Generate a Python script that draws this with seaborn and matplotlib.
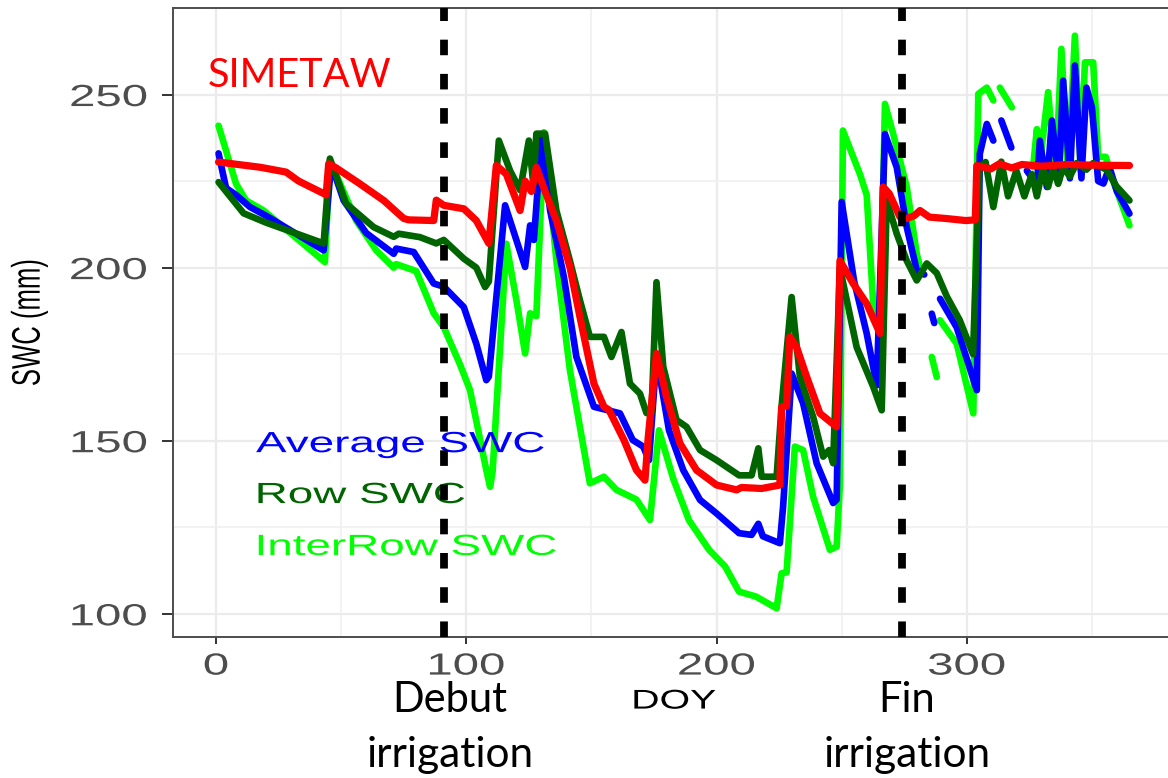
import numpy as np
import pandas as pd
import matplotlib
matplotlib.use("Agg")
import matplotlib.pyplot as plt
import seaborn as sns
from matplotlib.patheffects import AbstractPathEffect
from matplotlib.transforms import Affine2D
from matplotlib.ticker import FixedLocator

nan = np.nan

# Soil water content (mm) by day of year; NaN marks missing sensor readings
avg_doy = [1, 4, 8, 13.6, 20, 43, 46, 51, 60, 71, 72, 79, 87, 91, 99, 104, 108, 109, 115.5, 120,
           123.5, 125.5, 127, 130, 133.5, 139, 144, 151, 156, 161.4, 166.5, 170.7, 173, 176, 181,
           186.7, 193.4, 200, 209, 214, 216.7, 218.5, 225.3, 226.6, 230, 234.6, 240, 246.6, 248,
           250, 255, 260, 264, 267.3, 272, 276, 280, 283, nan, 286, 287, nan, 289.3, 296, 304,
           305.2, 308, 310.6, nan, 313.8, 317.8, nan, 324, 326, 328, 329.2, 332, 334, 336.8,
           338.5, 341.2, 343.2, 345.8, 347.8, 350, 352.5, 354.6, 357, 360, 365]
avg_swc = [233, 223, 221, 217.5, 215, 205, 230, 219.4, 210, 204, 205.5, 204.5, 195.4, 194.5, 188.6,
           178, 167.5, 168.5, 218, 208, 200.2, 212.2, 208, 237.2, 216.5, 197.3, 174.2, 159.8,
           158.9, 157.9, 150.2, 148.3, 144.4, 174.2, 153, 141.5, 132.9, 129, 123.3, 122.8, 126,
           122.4, 120.4, 131, 169.4, 160.8, 143.5, 132, 133, 219, 196, 181, 166, 238.6, 229,
           211.7, 199.2, 198, nan, 186.7, 184, nan, 191, 182.7, 164.6, 232.9, 241.5, 236.7, nan,
           242.5, 234.7, nan, 228, 226, 223.3, 236.7, 223.3, 242.5, 225, 254, 225.8, 258.4,
           225.8, 252, 246.3, 225, 224.3, 229, 222, 215.6]

row_doy = [1, 11, 20, 43, 45.5, 52, 63, 71, 73, 81.5, 88, 91, 99, 104, 107.5, 109, 113, 117.5,
           121.5, 125, 126.8, 128, 131.5, 136, 141.4, 145.4, 149.4, 155, 158, 162, 165.4, 169.4,
           172, 174, 176, 178.7, 184, 188, 193.4, 200, 209, 214, 216.7, 218, 224, 226, 230,
           233.3, 238.6, 242.6, 245, 246.6, 249.3, 256, 262.6, 266, 268, 272, 276, 280, 284,
           288, 292, 297.2, 302.5, 305, 307.5, 310.6, 313.8, 316.5, 319.8, 323, 326, 328, 330.5,
           332.5, 334.5, 336.5, 338.5, 341.2, 343.9, 347.8, 350.5, 355.8, 359.8, 365]
row_swc = [224.7, 215.7, 213, 207, 231.5, 218.5, 211.7, 208.9, 209.8, 208.8, 207, 208, 202.6, 200,
           194.4, 196, 236.7, 228, 222.4, 236.7, 224, 238.7, 238.7, 216.5, 202, 190.6, 180, 180,
           174.2, 181.4, 166.5, 163.6, 158, 158, 195.8, 171.4, 156, 154, 147.3, 144.4, 140, 140,
           147.8, 139.6, 139.6, 160, 191.5, 168.5, 156.9, 145.4, 147.3, 143.5, 200, 177, 165.6,
           158.8, 219.4, 209.8, 202, 196.3, 201.2, 198.4, 191.7, 184.8, 175, 229, 230.5, 217.5,
           230.6, 220.6, 228, 220.6, 227, 220.6, 229, 223.3, 229, 224.2, 229, 226.3, 230.2,
           228.3, 230.2, 228.3, 223.5, 219.4]

inter_doy = [1, 8, 12, 19, 43.5, 45.5, 56, 64, 71, 72, 80, 87, 91, 97.5, 101.5, 108, 109.5, 110.5,
             116, 120.5, 123.5, 125.5, 128, 131, 136, 141.4, 145.4, 149.4, 155, 160, 168, 173.4,
             177, 182.7, 189, 197, 203.4, 209, 215.7, 224, 226, 228, 231.3, 234.6, 238.6, 245.3,
             248, 249.3, 250.5, 257.3, 260, 262.6, 265.3, 267.3, 270.6, 276, 280, 281.3, nan, 286,
             288, nan, 289.3, 296, 302.6, 304.6, 308, 310.6, nan, 313.2, 318, nan, 326.5, 328,
             329.5, 332.5, 335.5, 337.8, 340.5, 343.2, 345.5, 347.2, 350.5, 352.5, 355.5, 358.5, 365]
inter_swc = [241, 224.2, 219.4, 216.5, 201.6, 231, 213.6, 205, 200, 201, 199, 186.8, 182.8, 172,
             164.6, 141.5, 136.7, 141, 206.9, 188.6, 175.2, 186.8, 186, 239.1, 202, 170.4, 154,
             137.7, 139.6, 135.8, 133, 127.1, 153, 139, 127, 118.5, 113.7, 106.4, 105, 101.6,
             111.7, 112, 148.3, 147.3, 133.8, 118.5, 119.4, 137.7, 239.6, 227, 221, 189.6, 180,
             247.3, 238.6, 223.3, 204, 200.2, nan, 174.2, 168.4, nan, 184.8, 178, 157.9, 250.2,
             252, 248.3, nan, 252, 246.3, nan, 229, 240, 232, 250.7, 226, 263.2, 227, 267, 228,
             259.3, 259.3, 232, 232, 225, 212.2]

sim_doy = [1, 17.6, 28, 33, 43, 44, 45, 48, 57.5, 67, 75, 77, 87, 88, 91, 99, 104, 109, 112, 116,
           121.5, 123.5, 126, 128, 131.5, 136, 141.4, 145.4, 151, 155, 157, 163, 168, 171.4,
           172.7, 176, 180, 185.4, 192, 200, 208, 210, 218, 225.3, 226, 228, 229.3, 232, 236,
           241.3, 248, 249.3, 254.6, 260, 265.3, 266.6, 269, 273.3, 276, 279, 281.3, 285, 291.6,
           299.6, 303.4, 304, 309.6, 313, 318, 322, 330, 340, 350, 365]
sim_swc = [230.5, 229, 227.6, 225, 221.4, 221, 230, 228.8, 224.2, 219.4, 214.2, 213.8, 213.6, 219.5,
           218, 217, 213.6, 207, 229.5, 227, 216.5, 225, 222, 229, 222, 213.6, 200.2, 185.8, 166.5,
           159.8, 158.9, 150.2, 141.5, 138.6, 151, 175.2, 162.7, 149.2, 141.5, 137.2, 135.8,
           136.5, 136.2, 137.2, 159.8, 160, 180, 177, 168.5, 157.9, 154, 202, 195.4, 189.6, 181,
           223.3, 221.4, 214.6, 214.2, 215, 216.5, 214.6, 214.2, 213.6, 213.8, 229.5, 228.5, 230,
           228.8, 229.8, 229.3, 229.8, 229.6, 229.5]

irrigation_start = 91
irrigation_end = 274

x_ticks = [0, 100, 200, 300]
y_ticks = [100, 150, 200, 250]

series_names = ["InterRow SWC", "Average SWC", "Row SWC", "SIMETAW"]
series_colors = {"Average SWC": "#0000FF", "Row SWC": "#006400",
                 "InterRow SWC": "#00FF00", "SIMETAW": "#FF0000"}


def to_frame(doy, swc, name):
    d = pd.DataFrame({"DOY": np.asarray(doy, float), "SWC": np.asarray(swc, float)})
    d["segment"] = d["SWC"].isna().cumsum()
    d["series"] = name
    return d.dropna()


df = pd.concat([
    to_frame(inter_doy, inter_swc, "InterRow SWC"),
    to_frame(avg_doy, avg_swc, "Average SWC"),
    to_frame(row_doy, row_swc, "Row SWC"),
    to_frame(sim_doy, sim_swc, "SIMETAW"),
], ignore_index=True)


class HStretch(AbstractPathEffect):
    """Widen glyphs horizontally about a chosen anchor of the text ink."""

    def __init__(self, sx=1.55, anchor="center"):
        super().__init__()
        self.sx = sx
        self.anchor = anchor

    def draw_path(self, renderer, gc, tpath, affine, rgbFace=None):
        bb = tpath.get_extents(affine)
        x0 = {"left": bb.x0, "center": 0.5 * (bb.x0 + bb.x1), "right": bb.x1}[self.anchor]
        stretch = Affine2D().translate(-x0, 0).scale(self.sx, 1.0).translate(x0, 0)
        renderer.draw_path(gc, tpath, affine + stretch, rgbFace)


sns.set_style("white")
plt.rcParams["font.family"] = ["Liberation Sans", "DejaVu Sans"]

W, H = 1168, 778
fig = plt.figure(figsize=(W / 100, H / 100), dpi=100)
fig.patch.set_facecolor("white")
left_px, right_px, top_px, bottom_px = 173, 1175, 8, 637
ax = fig.add_axes([left_px / W, 1 - bottom_px / H,
                   (right_px - left_px) / W, (bottom_px - top_px) / H])

ax.set_xlim(-17.2, 383.2)
ax.set_ylim(93.3, 275.0)

# grid
ax.xaxis.set_major_locator(FixedLocator(x_ticks))
ax.xaxis.set_minor_locator(FixedLocator([50, 150, 250, 350]))
ax.yaxis.set_major_locator(FixedLocator(y_ticks))
ax.yaxis.set_minor_locator(FixedLocator([125, 175, 225]))
ax.grid(which="major", color="#EBEBEB", lw=1.6, zorder=0)
ax.grid(which="minor", color="#F0F0F0", lw=1.2, zorder=0)
ax.set_axisbelow(True)

line_w = {"InterRow SWC": 4.8, "Average SWC": 4.8, "Row SWC": 4.8, "SIMETAW": 5.2}
for z, name in enumerate(series_names):
    sns.lineplot(data=df[df["series"] == name], x="DOY", y="SWC", units="segment",
                 estimator=None, color=series_colors[name], lw=line_w[name],
                 solid_joinstyle="round", solid_capstyle="round",
                 legend=False, ax=ax, zorder=2 + 0.1 * z)

# series labels inside the panel
label_rows = [("Average SWC", 146.7), ("Row SWC", 132.0), ("InterRow SWC", 117.0)]
for name, yv in label_rows:
    ax.text(16, yv, name, color=series_colors[name], fontsize=21, ha="left",
            va="baseline", zorder=4, path_effects=[HStretch(1.57, "left")])

# irrigation season boundaries
for xv in (irrigation_start, irrigation_end):
    ax.axvline(xv, color="black", lw=5.6, dashes=(2.0, 2.4), zorder=5)

for side in ("left", "bottom", "top", "right"):
    ax.spines[side].set_color("#4D4D4D")
    ax.spines[side].set_linewidth(1.4)

ax.tick_params(axis="x", which="major", length=5, width=1.4, color="#333333", pad=5.5,
               labelsize=22, labelcolor="#4D4D4D", direction="out", bottom=True)
ax.tick_params(axis="y", which="major", length=8, width=1.4, color="#333333", pad=10.5,
               labelsize=22, labelcolor="#4D4D4D", direction="out", left=True)
ax.tick_params(which="minor", length=0)
ax.set_xticks(x_ticks, [str(v) for v in x_ticks])
ax.set_yticks(y_ticks, [str(v) for v in y_ticks])
for lab in ax.get_xticklabels():
    lab.set_path_effects([HStretch(1.55, "center")])
for lab in ax.get_yticklabels():
    lab.set_path_effects([HStretch(1.55, "right")])

ax.set_xlabel("DOY", fontsize=19.5, color="black", path_effects=[HStretch(1.45, "center")])
ax.xaxis.set_label_coords(0.5, -0.082)
ax.set_ylabel("SWC (mm)", fontsize=18.5, color="black", va="center",
              path_effects=[HStretch(1.55, "center")])
ax.yaxis.set_label_coords(-0.1437, 0.5)

# annotations
fig.text(208 / W, 1 - 87 / H, "SIMETAW", color="#FF0000", fontsize=28.5,
         family=["Lato", "DejaVu Sans"], ha="left", va="baseline")
for cx, first in ((450, "Debut"), (907, "Fin")):
    fig.text(cx / W, 1 - 712 / H, first, color="black", fontsize=30,
             family=["Lato", "DejaVu Sans"], ha="center", va="baseline")
    fig.text(cx / W, 1 - 767 / H, "irrigation", color="black", fontsize=30.5,
             family=["Lato", "DejaVu Sans"], ha="center", va="baseline")

fig.savefig("out.png", dpi=100, facecolor="white")
